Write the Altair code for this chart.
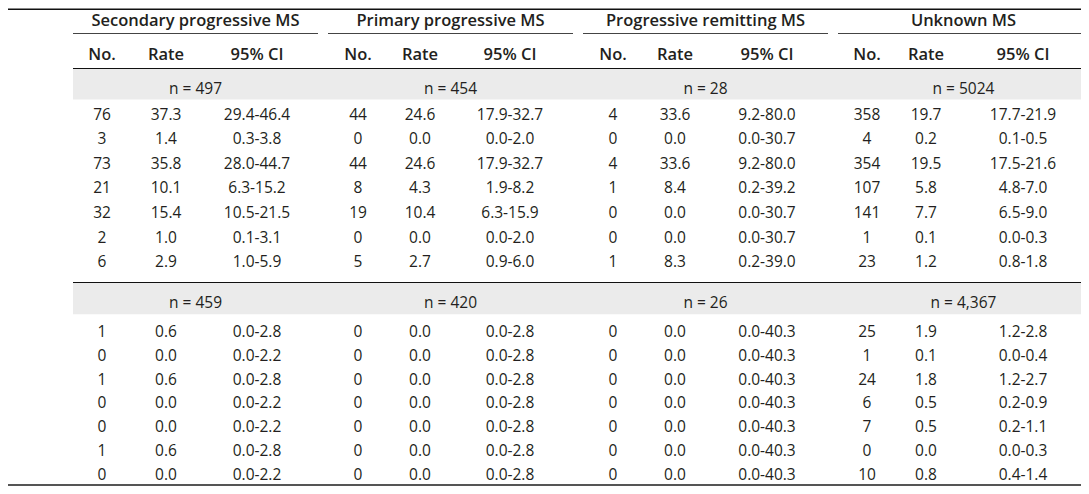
import altair as alt
import pandas as pd

# ---------------- data ----------------
groups = ["Secondary progressive MS", "Primary progressive MS",
          "Progressive remitting MS", "Unknown MS"]
sub_headers = ["No.", "Rate", "95% CI"]
n_block1 = ["497", "454", "28", "5024"]
n_block2 = ["459", "420", "26", "4,367"]

# block 1
spms_no_1 = ["76", "3", "73", "21", "32", "2", "6"]
spms_rate_1 = ["37.3", "1.4", "35.8", "10.1", "15.4", "1.0", "2.9"]
spms_ci_1 = ["29.4-46.4", "0.3-3.8", "28.0-44.7", "6.3-15.2", "10.5-21.5", "0.1-3.1", "1.0-5.9"]
ppms_no_1 = ["44", "0", "44", "8", "19", "0", "5"]
ppms_rate_1 = ["24.6", "0.0", "24.6", "4.3", "10.4", "0.0", "2.7"]
ppms_ci_1 = ["17.9-32.7", "0.0-2.0", "17.9-32.7", "1.9-8.2", "6.3-15.9", "0.0-2.0", "0.9-6.0"]
prms_no_1 = ["4", "0", "4", "1", "0", "0", "1"]
prms_rate_1 = ["33.6", "0.0", "33.6", "8.4", "0.0", "0.0", "8.3"]
prms_ci_1 = ["9.2-80.0", "0.0-30.7", "9.2-80.0", "0.2-39.2", "0.0-30.7", "0.0-30.7", "0.2-39.0"]
unk_no_1 = ["358", "4", "354", "107", "141", "1", "23"]
unk_rate_1 = ["19.7", "0.2", "19.5", "5.8", "7.7", "0.1", "1.2"]
unk_ci_1 = ["17.7-21.9", "0.1-0.5", "17.5-21.6", "4.8-7.0", "6.5-9.0", "0.0-0.3", "0.8-1.8"]

# block 2
spms_no_2 = ["1", "0", "1", "0", "0", "1", "0"]
spms_rate_2 = ["0.6", "0.0", "0.6", "0.0", "0.0", "0.6", "0.0"]
spms_ci_2 = ["0.0-2.8", "0.0-2.2", "0.0-2.8", "0.0-2.2", "0.0-2.2", "0.0-2.8", "0.0-2.2"]
ppms_no_2 = ["0", "0", "0", "0", "0", "0", "0"]
ppms_rate_2 = ["0.0", "0.0", "0.0", "0.0", "0.0", "0.0", "0.0"]
ppms_ci_2 = ["0.0-2.8", "0.0-2.8", "0.0-2.8", "0.0-2.8", "0.0-2.8", "0.0-2.8", "0.0-2.8"]
prms_no_2 = ["0", "0", "0", "0", "0", "0", "0"]
prms_rate_2 = ["0.0", "0.0", "0.0", "0.0", "0.0", "0.0", "0.0"]
prms_ci_2 = ["0.0-40.3", "0.0-40.3", "0.0-40.3", "0.0-40.3", "0.0-40.3", "0.0-40.3", "0.0-40.3"]
unk_no_2 = ["25", "1", "24", "6", "7", "0", "10"]
unk_rate_2 = ["1.9", "0.1", "1.8", "0.5", "0.5", "0.0", "0.8"]
unk_ci_2 = ["1.2-2.8", "0.0-0.4", "1.2-2.7", "0.2-0.9", "0.2-1.1", "0.0-0.3", "0.4-1.4"]

block1 = [[spms_no_1, spms_rate_1, spms_ci_1], [ppms_no_1, ppms_rate_1, ppms_ci_1],
          [prms_no_1, prms_rate_1, prms_ci_1], [unk_no_1, unk_rate_1, unk_ci_1]]
block2 = [[spms_no_2, spms_rate_2, spms_ci_2], [ppms_no_2, ppms_rate_2, ppms_ci_2],
          [prms_no_2, prms_rate_2, prms_ci_2], [unk_no_2, unk_rate_2, unk_ci_2]]

# ---------------- layout (reference-image pixel coordinates) ----------------
W, H = 1073, 478
X_MIN, X_MAX = 8, 8 + W          # x: page pixels, identity
# y: reference pixels -> chart pixels (page = chart + 8); identity in the middle,
# gently squeezed at the very top and bottom so the outer rules stay inside the page
Y_DOMAIN = [0, 20, 300, 483, 491.5]
Y_RANGE = [0.75, 12, 292, 472, 477]
COL_X = [[102, 166, 257], [358, 420, 510], [613, 675, 767], [867, 926, 1023]]
GROUP_SPAN = [(73, 318), (328, 573), (583, 828), (838, 1089)]
TABLE_X0 = 73
TOP_Y = 1
TITLE_BASE = 26
UNDERLINE_Y = 33.5
SUB_BASE = 60
HEADLINE_Y = 68.5
BAND1 = (69, 99.5)
N1_BASE = 94
ROW1_BASE0, ROW1_STEP = 119.5, 24.6
MIDLINE_Y = 282.5
BAND2 = (283, 314.5)
N2_BASE = 308
ROW2_BASE0, ROW2_STEP = 337.5, 24.25
BOTTOM_Y = 491.5
FONT = "Open Sans"
FS = 15.5
FS_HEAD = 16.5
INK = "#231f20"


def clampx(v):
    return max(X_MIN, min(X_MAX, v))


texts = []
for g, name in enumerate(groups):
    x0, x1 = GROUP_SPAN[g]
    cx = (x0 + x1) / 2
    texts.append({"t": name, "x": cx, "y": TITLE_BASE, "w": 600})
    for c, sh in enumerate(sub_headers):
        texts.append({"t": sh, "x": COL_X[g][c], "y": SUB_BASE, "w": 600})
    texts.append({"t": "n = " + n_block1[g], "x": cx, "y": N1_BASE, "w": 400})
    texts.append({"t": "n = " + n_block2[g], "x": cx, "y": N2_BASE, "w": 400})
    for c in range(3):
        for r, v in enumerate(block1[g][c]):
            texts.append({"t": v, "x": COL_X[g][c], "y": ROW1_BASE0 + r * ROW1_STEP, "w": 400})
        for r, v in enumerate(block2[g][c]):
            texts.append({"t": v, "x": COL_X[g][c], "y": ROW2_BASE0 + r * ROW2_STEP, "w": 400})
tdf = pd.DataFrame(texts)

rules = [
    {"x": X_MIN, "x2": X_MAX, "y": TOP_Y, "sw": 1.5, "col": "#111111"},
    {"x": TABLE_X0, "x2": X_MAX, "y": HEADLINE_Y, "sw": 1.2, "col": "#111111"},
    {"x": TABLE_X0, "x2": X_MAX, "y": MIDLINE_Y, "sw": 1.2, "col": "#111111"},
    {"x": X_MIN, "x2": X_MAX, "y": BOTTOM_Y, "sw": 2.0, "col": "#555555"},
]
for g in range(4):
    x0, x1 = GROUP_SPAN[g]
    rules.append({"x": clampx(x0), "x2": clampx(x1), "y": UNDERLINE_Y, "sw": 1.2, "col": "#444444"})
rdf = pd.DataFrame(rules)

bdf = pd.DataFrame([
    {"x": TABLE_X0, "x2": X_MAX, "y": BAND1[0], "y2": BAND1[1]},
    {"x": TABLE_X0, "x2": X_MAX, "y": BAND2[0], "y2": BAND2[1]},
])

xs = alt.Scale(domain=[X_MIN, X_MAX], range=[0, W], nice=False, zero=False)
ys = alt.Scale(domain=Y_DOMAIN, range=Y_RANGE, nice=False, zero=False)

bands = alt.Chart(bdf).mark_rect(color="#ebebeb").encode(
    x=alt.X("x:Q", scale=xs, axis=None), x2="x2:Q",
    y=alt.Y("y:Q", scale=ys, axis=None), y2="y2:Q")

lines = alt.Chart(rdf).mark_rule().encode(
    x=alt.X("x:Q", scale=xs, axis=None), x2="x2:Q",
    y=alt.Y("y:Q", scale=ys, axis=None),
    strokeWidth=alt.StrokeWidth("sw:Q", scale=None, legend=None),
    color=alt.Color("col:N", scale=None, legend=None))

labels_bold = alt.Chart(tdf[tdf["w"] == 600]).mark_text(
    font=FONT, fontSize=FS_HEAD, fontWeight=600, align="center", baseline="alphabetic", color=INK
).encode(
    x=alt.X("x:Q", scale=xs, axis=None),
    y=alt.Y("y:Q", scale=ys, axis=None),
    text="t:N")

labels_reg = alt.Chart(tdf[tdf["w"] == 400]).mark_text(
    font=FONT, fontSize=FS, fontWeight=400, align="center", baseline="alphabetic", color=INK
).encode(
    x=alt.X("x:Q", scale=xs, axis=None),
    y=alt.Y("y:Q", scale=ys, axis=None),
    text="t:N")

chart = alt.layer(bands, lines, labels_reg, labels_bold).properties(
    width=W, height=H, padding=0,
    autosize=alt.AutoSizeParams(type="none"),
    background="white",
).configure_view(stroke=None)

chart.save("out.html", embed_options={"renderer": "svg", "actions": False})
